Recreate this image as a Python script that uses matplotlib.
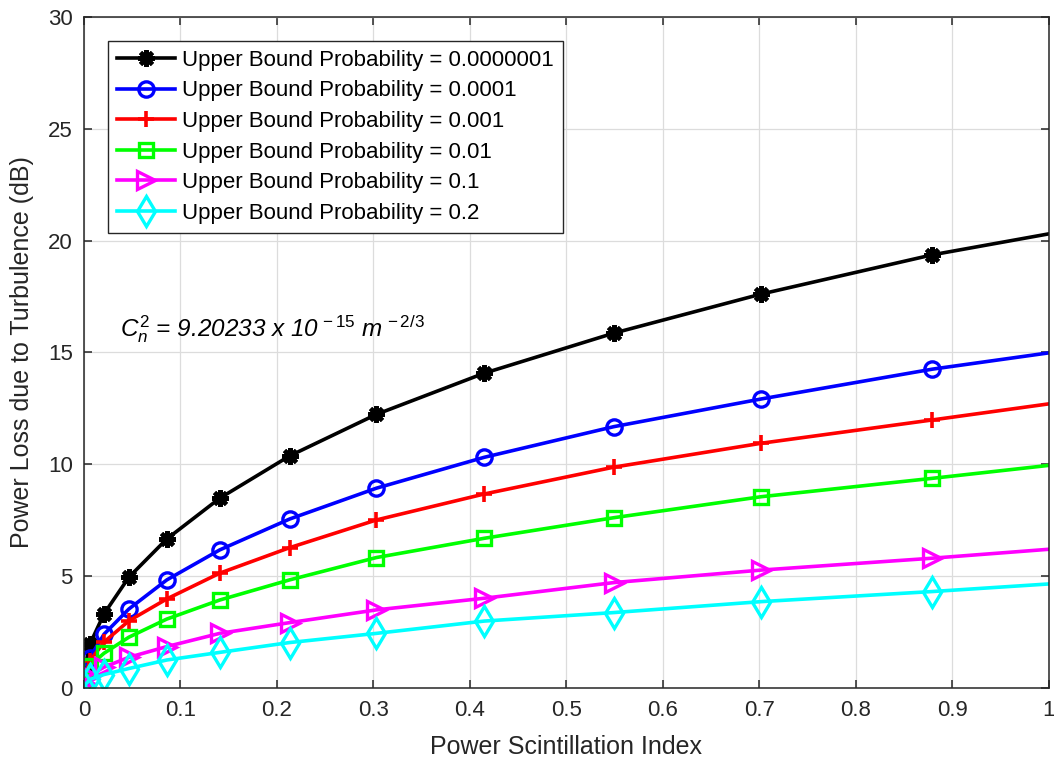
import matplotlib
matplotlib.use("Agg")
import matplotlib.pyplot as plt
from matplotlib.ticker import FormatStrFormatter

plt.rcParams["font.family"] = ["Liberation Sans", "DejaVu Sans"]
plt.rcParams["mathtext.fontset"] = "custom"
plt.rcParams["mathtext.it"] = "Liberation Sans:italic"
plt.rcParams["mathtext.rm"] = "Liberation Sans"
plt.rcParams["mathtext.default"] = "it"

# power scintillation index (x)
scint = [0.0005, 0.006, 0.0207, 0.0465, 0.0858, 0.1406, 0.213, 0.303, 0.4147, 0.549, 0.702, 0.879, 1.0]

# power loss (dB) for each upper bound probability
p_1e7 = [0.80, 1.95, 3.31, 4.95, 6.66, 8.48, 10.37, 12.23, 14.07, 15.86, 17.61, 19.36, 20.30]
p_1e4 = [0.50, 1.35, 2.40, 3.53, 4.83, 6.17, 7.55, 8.93, 10.31, 11.68, 12.92, 14.25, 14.98]
p_1e3 = [0.45, 1.20, 2.05, 3.00, 3.98, 5.13, 6.27, 7.51, 8.67, 9.87, 10.94, 11.98, 12.70]
p_1e2 = [0.35, 1.00, 1.55, 2.27, 3.08, 3.93, 4.83, 5.83, 6.69, 7.61, 8.55, 9.37, 9.95]
p_1e1 = [0.20, 0.55, 0.93, 1.37, 1.85, 2.44, 2.92, 3.49, 4.01, 4.71, 5.27, 5.80, 6.20]
p_2e1 = [0.10, 0.38, 0.60, 0.87, 1.25, 1.59, 2.03, 2.44, 2.99, 3.37, 3.86, 4.31, 4.65]

labels = ["0.0000001", "0.0001", "0.001", "0.01", "0.1", "0.2"]

fig = plt.figure(figsize=(10.54, 7.65), dpi=100)
ax = fig.add_axes([0.0797, 0.1007, 0.9155, 0.8773])

mk = list(range(len(scint) - 1))  # last point sits on the axis edge, no marker there
lw = 2.6
ax.plot(scint, p_1e7, color="k", lw=lw, marker=(8, 2, 0), ms=12, mew=3.0, markevery=mk, label="Upper Bound Probability = " + labels[0])
ax.plot(scint, p_1e4, color="b", lw=lw, marker="o", ms=11, mew=2.4, mfc="none", markevery=mk, label="Upper Bound Probability = " + labels[1])
ax.plot(scint, p_1e3, color="r", lw=lw, marker="+", ms=12, mew=2.6, markevery=mk, label="Upper Bound Probability = " + labels[2])
ax.plot(scint, p_1e2, color="#00ff00", lw=lw, marker="s", ms=9.5, mew=2.4, mfc="none", markevery=mk, label="Upper Bound Probability = " + labels[3])
ax.plot(scint, p_1e1, color="#ff00ff", lw=lw, marker=">", ms=13, mew=2.4, mfc="none", markevery=mk, label="Upper Bound Probability = " + labels[4])
ax.plot(scint, p_2e1, color="cyan", lw=lw, marker="d", ms=15, mew=2.4, mfc="none", markevery=mk, label="Upper Bound Probability = " + labels[5])

ax.set_xlim(0, 1)
ax.set_ylim(0, 30)
ax.set_xticks([i / 10 for i in range(11)])
ax.set_yticks(range(0, 31, 5))
ax.xaxis.set_major_formatter(FormatStrFormatter("%g"))
ax.grid(True, color="#dcdcdc", lw=0.9)
ax.set_axisbelow(True)
for s in ax.spines.values():
    s.set_color("#262626")
    s.set_linewidth(1.1)
ax.tick_params(direction="in", top=True, right=True, length=6, width=1.1, colors="#262626", labelsize=16)
ax.tick_params(axis="x", pad=9)
ax.tick_params(axis="y", pad=8)

ax.set_xlabel("Power Scintillation Index", fontsize=18, color="#262626", labelpad=10)
ax.set_ylabel("Power Loss due to Turbulence (dB)", fontsize=18, color="#262626", labelpad=10)

ax.text(0.037, 15.7, r"$C_n^2$ = 9.20233 x 10$^{\,-15}$ m$^{\,-2/3}$", fontsize=17.5, style="italic", va="baseline")

leg = ax.legend(loc="upper left", bbox_to_anchor=(0.0248, 0.964), borderaxespad=0, fontsize=16, fancybox=False,
                edgecolor="#262626", framealpha=1, handlelength=2.6, borderpad=0.4, labelspacing=0.43, handletextpad=0.35)
leg.get_frame().set_linewidth(1.0)

plt.savefig("out.png")
